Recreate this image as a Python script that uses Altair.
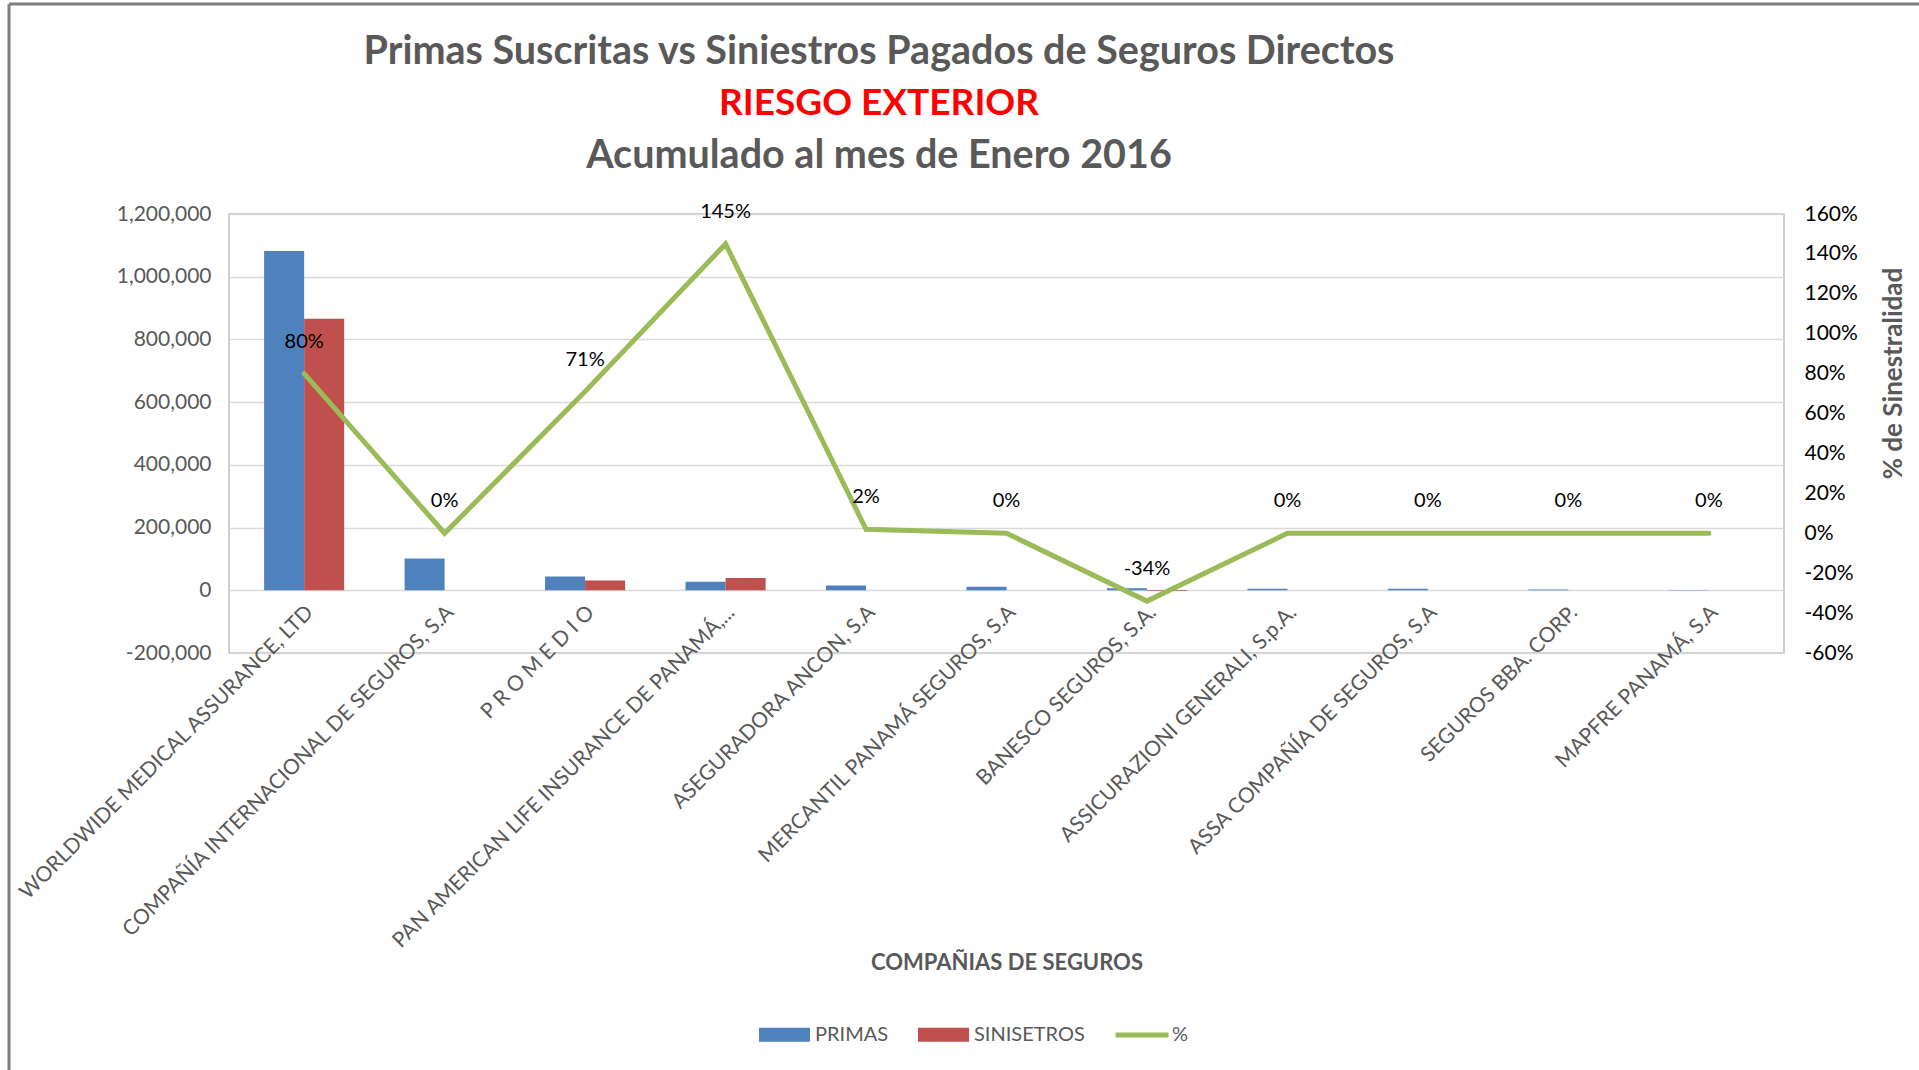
import altair as alt
import pandas as pd

companias = [
    "WORLDWIDE MEDICAL ASSURANCE, LTD",
    "COMPAÑÍA INTERNACIONAL DE SEGUROS, S.A",
    "P R O M E D I O",
    "PAN AMERICAN LIFE INSURANCE DE PANAMÁ,...",
    "ASEGURADORA ANCON, S.A",
    "MERCANTIL PANAMÁ SEGUROS, S.A",
    "BANESCO SEGUROS, S.A.",
    "ASSICURAZIONI GENERALI, S.p.A.",
    "ASSA COMPAÑÍA DE SEGUROS, S.A",
    "SEGUROS BBA. CORP.",
    "MAPFRE PANAMÁ, S.A",
]
primas = [1082000, 101000, 44000, 27000, 15500, 11500, 6500, 5000, 4500, 2500, 1000]
siniestros = [866000, 0, 31200, 39200, 300, 0, -2200, 0, 0, 0, 0]
porcentaje = [0.80, 0.00, 0.71, 1.45, 0.02, 0.00, -0.34, 0.00, 0.00, 0.00, 0.00]

series = ["PRIMAS", "SINISETROS"]
y_ticks = [-200000, 0, 200000, 400000, 600000, 800000, 1000000, 1200000]
pct_ticks = [-0.6, -0.4, -0.2, 0.0, 0.2, 0.4, 0.6, 0.8, 1.0, 1.2, 1.4, 1.6]

rows = []
for c, p, s in zip(companias, primas, siniestros):
    rows.append({"compania": c, "serie": "PRIMAS", "valor": p})
    rows.append({"compania": c, "serie": "SINISETROS", "valor": s})
bars_df = pd.DataFrame(rows)
line_df = pd.DataFrame({"compania": companias, "pct": porcentaje})

GRAY = "#595959"
FONT = "Lato"

x_enc = alt.X(
    "compania:N",
    sort=companias,
    scale=alt.Scale(paddingInner=0.43, paddingOuter=0.25),
    axis=alt.Axis(
        orient="bottom",
        offset=-62,
        labelAngle=-45,
        labelAlign="right",
        labelBaseline="middle",
        labelPadding=18,
        labelOffset=6,
        labelFontSize=21,
        labelColor=GRAY,
        labelLimit=700,
        labelFont=FONT,
        labelOverlap=False,
        ticks=False,
        domain=False,
        grid=False,
        title="COMPAÑIAS DE SEGUROS",
        titleFont=FONT,
        titleFontSize=22,
        titleFontWeight="bold",
        titleColor=GRAY,
        titleY=371,
        titleBaseline="middle",
    ),
)

bars = alt.Chart(bars_df).mark_bar().encode(
    x=x_enc,
    xOffset=alt.XOffset("serie:N", sort=series, scale=alt.Scale(paddingInner=0, paddingOuter=0)),
    y=alt.Y(
        "valor:Q",
        scale=alt.Scale(domain=[-200000, 1200000], nice=False, zero=False),
        axis=alt.Axis(
            values=y_ticks,
            format=",.0f",
            labelExpr="replace(datum.label, '−', '-')",
            labelOverlap=False,
            title=None,
            grid=True,
            gridColor="#D9D9D9",
            gridWidth=1.5,
            domain=False,
            ticks=False,
            labelPadding=18,
            labelFontSize=21,
            labelColor=GRAY,
            labelFont=FONT,
        ),
    ),
    color=alt.Color(
        "serie:N",
        sort=series,
        scale=alt.Scale(domain=series, range=["#4F81BD", "#C0504D"]),
        legend=alt.Legend(
            orient="none",
            legendX=530,
            legendY=795,
            direction="horizontal",
            title=None,
            symbolType="M-1,-0.27H1V0.27H-1Z",
            symbolSize=2601,
            symbolStrokeWidth=0,
            labelFontSize=20,
            labelFont=FONT,
            labelColor=GRAY,
            columnPadding=29,
            labelOffset=5,
            padding=0,
        ),
    ),
)

pct_y = alt.Y(
    "pct:Q",
    scale=alt.Scale(domain=[-0.6, 1.6], nice=False, zero=False),
    axis=alt.Axis(
        orient="right",
        values=pct_ticks,
        format=".0%",
        labelExpr="replace(datum.label, '−', '-')",
        labelOverlap=False,
        labelSeparation=0,
        grid=False,
        domain=False,
        ticks=False,
        labelPadding=20,
        labelFontSize=21,
        labelColor="#000000",
        labelFont=FONT,
        title="% de Sinestralidad",
        titleFont=FONT,
        titleFontSize=26,
        titleFontWeight="bold",
        titleColor=GRAY,
        titleAngle=270,
        titleX=109,
        titleY=159,
        titleAlign="center",
        titleBaseline="middle",
    ),
)

line = alt.Chart(line_df).transform_calculate(serie="'%'").mark_line(
    strokeWidth=5, strokeCap="round"
).encode(
    x=x_enc,
    y=pct_y,
    stroke=alt.Stroke(
        "serie:N",
        scale=alt.Scale(domain=["%"], range=["#9BBB59"]),
        legend=alt.Legend(
            orient="none",
            legendX=884,
            legendY=792,
            title=None,
            symbolType="stroke",
            symbolSize=2809,
            symbolStrokeWidth=5,
            labelFontSize=20,
            labelFont=FONT,
            labelColor=GRAY,
            labelOffset=1,
            padding=0,
        ),
    ),
)

labels = alt.Chart(line_df).transform_calculate(
    lbl="replace(format(datum.pct, '.0%'), '−', '-')"
).mark_text(dy=-32, fontSize=20, font=FONT, color="#000000").encode(
    x=x_enc,
    y=pct_y,
    text=alt.Text("lbl:N"),
)

one = pd.DataFrame({"k": [0]})
TS = 39.5
t1 = alt.Chart(one).mark_text(
    text="Primas Suscritas vs Siniestros Pagados de Seguros Directos",
    font=FONT, fontSize=TS, fontWeight="bold", color=GRAY, baseline="middle", align="center",
).encode(x=alt.value(650), y=alt.value(-162))
t2 = alt.Chart(one).mark_text(
    text="RIESGO EXTERIOR",
    font=FONT, fontSize=37, fontWeight="bold", color="#FF0000", baseline="middle", align="center",
).encode(x=alt.value(650), y=alt.value(-110))
t3 = alt.Chart(one).mark_text(
    text="Acumulado al mes de Enero 2016",
    font=FONT, fontSize=TS, fontWeight="bold", color=GRAY, baseline="middle", align="center",
).encode(x=alt.value(650), y=alt.value(-58))

frame_top = alt.Chart(one).mark_rule(color="#7F7F7F", strokeWidth=3).encode(
    x=alt.value(-220), x2=alt.value(1690), y=alt.value(-210)
)
frame_left = alt.Chart(one).mark_rule(color="#7F7F7F", strokeWidth=3).encode(
    x=alt.value(-220), y=alt.value(-210), y2=alt.value(856)
)

chart = alt.layer(
    bars,
    alt.layer(line, labels),
    t1, t2, t3, frame_top, frame_left,
).resolve_scale(
    y="independent"
).properties(
    width=1555,
    height=439,
    autosize=alt.AutoSizeParams(type="none"),
    padding={"left": 229, "top": 214, "right": 135, "bottom": 417},
    background="white",
).configure_view(
    stroke="#BFBFBF", strokeWidth=1.5
).configure_axis(
    labelOverlap=False
)

chart.save("out.html", embed_options={"renderer": "svg", "actions": False})
